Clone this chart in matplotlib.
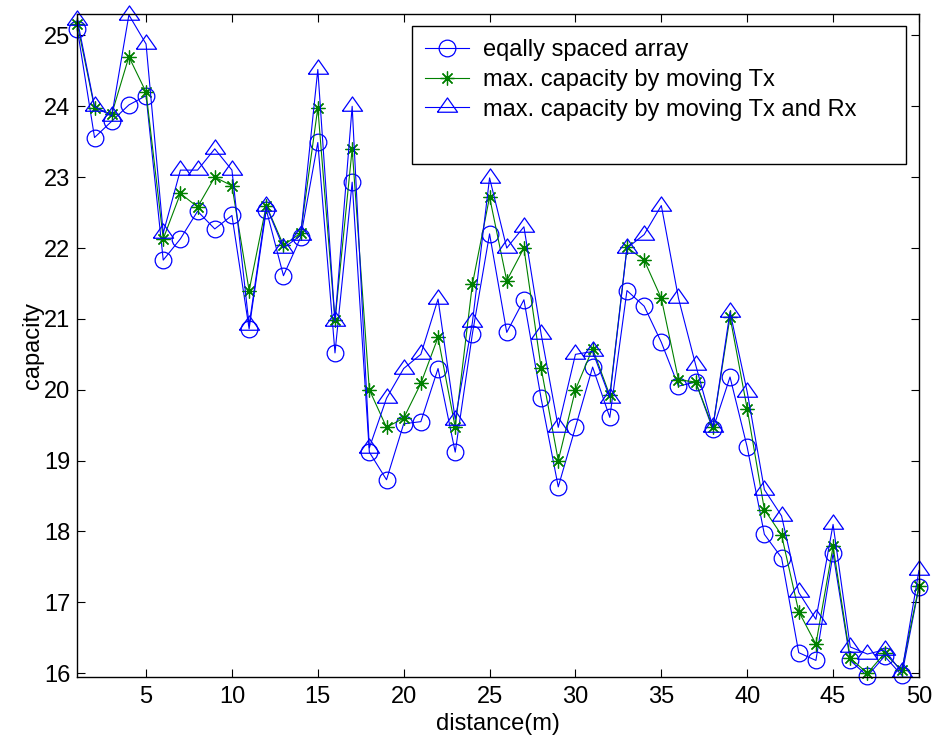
import matplotlib
matplotlib.use('Agg')
import matplotlib.pyplot as plt
from matplotlib.lines import Line2D

plt.rcParams['font.family'] = ['Liberation Sans', 'DejaVu Sans']

# distance in metres
distance = list(range(1, 51))

# capacity of the equally spaced array
cap_equal = [25.09, 23.56, 23.79, 24.02, 24.15, 21.83, 22.13, 22.52, 22.27, 22.46,
             20.86, 22.54, 21.61, 22.15, 23.49, 20.52, 22.93, 19.12, 18.73, 19.52,
             19.55, 20.30, 19.12, 20.79, 22.20, 20.81, 21.27, 19.88, 18.63, 19.47,
             20.32, 19.61, 21.40, 21.18, 20.67, 20.05, 20.11, 19.44, 20.18, 19.19,
             17.96, 17.63, 16.29, 16.18, 17.69, 16.18, 15.96, 16.24, 15.97, 17.21]

# max. capacity by moving Tx
cap_tx = [25.16, 23.98, 23.89, 24.70, 24.20, 22.13, 22.77, 22.58, 23.00, 22.88,
          21.40, 22.60, 22.04, 22.21, 23.98, 20.98, 23.40, 20.00, 19.47, 19.60,
          20.09, 20.74, 19.47, 21.49, 22.72, 21.54, 22.00, 20.31, 19.00, 20.00,
          20.58, 19.92, 22.01, 21.83, 21.29, 20.14, 20.11, 19.47, 21.03, 19.73,
          18.31, 17.95, 16.87, 16.41, 17.79, 16.21, 16.00, 16.28, 16.04, 17.23]

# max. capacity by moving Tx and Rx
cap_txrx = [25.22, 24.00, 23.86, 25.29, 24.88, 22.21, 23.10, 23.10, 23.40, 23.10,
            20.91, 22.59, 22.00, 22.18, 24.52, 20.97, 24.00, 19.18, 19.88, 20.30,
            20.50, 21.28, 19.58, 20.95, 22.99, 22.00, 22.30, 20.79, 19.47, 20.50,
            20.54, 19.89, 22.00, 22.19, 22.60, 21.29, 20.35, 19.47, 21.10, 19.97,
            18.59, 18.22, 17.14, 16.76, 18.10, 16.37, 16.27, 16.33, 16.01, 17.45]

# MATLAB-like wide triangle, centred on its centroid
tri = [(-1.0, -0.47), (1.0, -0.47), (0.0, 0.95), (-1.0, -0.47)]

fs = 17

fig = plt.figure(figsize=(9.32, 7.49), dpi=100)
ax = fig.add_axes([0.083, 0.0965, 0.903, 0.8845])

ax.plot(distance, cap_equal, color='blue', lw=0.8, marker='o', ms=12,
        mfc='none', mec='blue', mew=0.9, clip_on=False, label='eqally spaced array')
ax.plot(distance, cap_tx, color='green', lw=0.8, marker=(8, 2, 0), ms=10,
        mec='green', mew=0.9, clip_on=False, label='max. capacity by moving Tx')
ax.plot(distance, cap_txrx, color='blue', lw=0.8, marker=tri, ms=14.5,
        mfc='none', mec='blue', mew=0.9, clip_on=False,
        label='max. capacity by moving Tx and Rx')

ax.set_xlim(1, 50)
ax.set_ylim(15.95, 25.3)
ax.set_xticks(range(5, 51, 5))
ax.set_yticks(range(16, 26))
ax.tick_params(direction='in', length=5.5, width=0.8, labelsize=fs,
               top=True, right=True)
ax.tick_params(axis='y', pad=5)
ax.tick_params(axis='x', pad=7)
for s in ax.spines.values():
    s.set_linewidth(1.0)

ax.set_xlabel('distance(m)', fontsize=fs, labelpad=3)
ax.set_ylabel('capacity', fontsize=fs, labelpad=0)

handles, labels = ax.get_legend_handles_labels()
handles.append(Line2D([], [], color='none'))
labels.append(' ')
leg = ax.legend(handles, labels, loc='upper left',
                bbox_to_anchor=(0.3976, 0.982, 0.587, 0), mode='expand',
                borderaxespad=0, fontsize=fs, fancybox=False, framealpha=1,
                edgecolor='black', handlelength=1.86, handletextpad=0.6,
                labelspacing=0.33, borderpad=0.55)
leg.get_frame().set_linewidth(1.0)

fig.savefig('out.png', dpi=100)
